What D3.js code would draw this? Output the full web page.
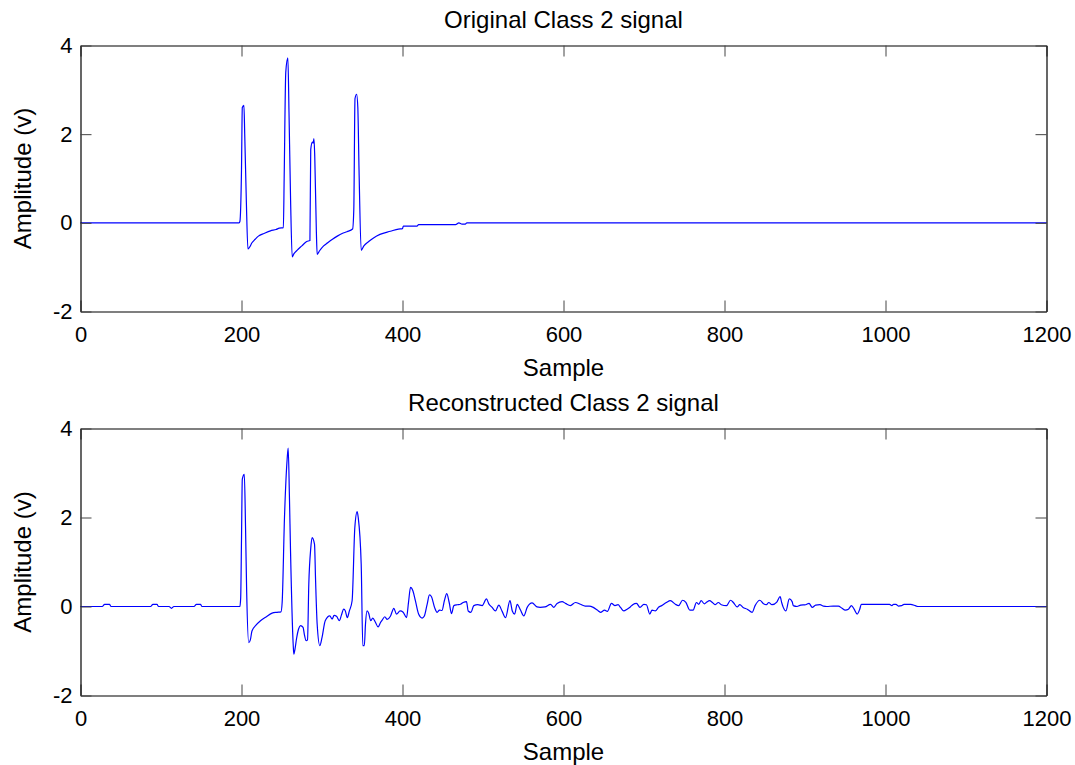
<!DOCTYPE html>
<html>
<head>
<meta charset="utf-8">
<script src="https://cdn.jsdelivr.net/npm/d3@7"></script>
<style>
  body { margin: 0; background: #fff; }
  svg { display: block; }
  .axis text { font-family: "Liberation Sans", Arial, sans-serif; font-size: 22px; fill: #000; }
  .label { font-family: "Liberation Sans", Arial, sans-serif; font-size: 24px; fill: #000; }
</style>
</head>
<body>
<div id="chart"></div>
<script>
// chart size
const width = 1075
const height = 765

// ticks
const xTicks = [0, 200, 400, 600, 800, 1000, 1200];
const yTicks = [-2, 0, 2, 4];

// titles
const titles = ["Original Class 2 signal", "Reconstructed Class 2 signal"];

// original signal (sample, amplitude)
const origSample = [0, 197, 198, 200, 201, 203, 204, 206, 208, 210, 213, 217, 221, 228, 236, 243, 247, 252,
  253, 255, 257.6, 259, 261, 263, 265, 269, 275, 281, 285, 286, 288, 289, 290, 291, 293, 294, 297, 302, 307,
  313, 319, 325, 331, 338, 339.5, 341, 343, 344.5, 346, 348.7, 352, 358, 364, 372, 385, 395, 400, 401, 418,
  420, 466, 470, 474, 478, 480, 1200];
const origAmp = [0, 0, 0.03, 1.2, 2.6, 2.65, 2.0, 0.5, -0.59, -0.55, -0.45, -0.37, -0.3, -0.24, -0.18, -0.15, -0.12, -0.11,
  1.0, 3.4, 3.72, 2.5, 0.5, -0.77, -0.7, -0.62, -0.52, -0.42, -0.4, 1.65, 1.82, 1.8, 1.9, 1.5, -0.2, -0.71, -0.63, -0.52, -0.45,
  -0.37, -0.3, -0.24, -0.2, -0.14, 0.3, 2.8, 2.9, 2.6, 1.2, -0.62, -0.52, -0.42, -0.34, -0.26, -0.19, -0.14, -0.13, -0.075, -0.075,
  -0.04, -0.04, 0.0, -0.03, -0.03, 0, 0];

// reconstructed signal (sample, amplitude)
const reconSample = [0, 27, 30, 36, 38, 87, 90, 95, 97, 110, 113, 116, 141, 144, 149, 151, 198,
  199, 200, 201, 203.5, 205, 206.4, 209, 211, 213, 218, 223.6, 230, 238, 244, 249,
  250.5, 253.4, 256.7, 258, 259.5, 260.9, 264.2, 265, 266.5, 268.3, 271, 273.3, 276.5, 278, 280.3, 282,
  283.6, 286, 287.7, 290.7, 292, 294, 297.3, 300, 304, 309.7, 312.6, 315, 318, 321.7, 324, 327, 329, 331.4, 334,
  337.4, 340.8, 343.7, 345, 348.7, 350.7, 352.6, 354, 356, 358, 360.5, 363, 366.5, 369.7, 372.7, 374.6, 378, 381,
  385, 389.2, 392.5, 397, 400.8, 405, 407.5, 410, 413, 416, 420, 424.4, 427, 430.6, 433.5, 436, 439.8, 443, 446,
  449, 452, 455, 458, 460.9, 463.8, 468, 472, 475.4, 479.5, 481.6, 485, 488.6, 493.5, 499, 504.3, 507.2, 511.3,
  515.5, 519.6, 523.8, 528, 533.5, 536.4, 539.3, 542.5, 546.6, 550.7, 554.9, 561, 567, 571, 577, 583.9, 588, 592,
  598.3, 602.5, 608.6, 614.8, 621, 627, 632, 637, 642, 646, 651, 654.5, 659.6, 664, 667.8, 670.8, 674.9, 679, 683,
  686, 690.7, 695, 699.8, 703, 707.2, 710, 714, 718.4, 722, 727.8, 732.8, 739, 743, 747.9, 752, 756.9, 761, 765.2,
  768, 771, 775, 778, 781.4, 785, 788.2, 792.4, 796, 802.5, 807.5, 811, 815.7, 819, 823, 828.2, 834.4, 838, 843.9,
  848, 852, 855, 859, 865, 869.1, 871, 873, 876.3, 880.5, 884, 885.5, 890, 894.6, 900.8, 905, 909, 913.2, 918.6,
  923, 927, 935, 941.5, 946, 950, 954, 957.7, 961, 964.8, 968, 970, 1005, 1008, 1010, 1013, 1016, 1020, 1023,
  1027, 1031, 1037, 1040, 1200];
const reconAmp = [0, 0, 0.05, 0.05, 0, 0, 0.05, 0.05, 0, 0, -0.04, 0, 0, 0.05, 0.05, 0, 0,
  0.2, 1.5, 2.86, 2.97, 1.8, 0.35, -0.81, -0.75, -0.55, -0.42, -0.32, -0.24, -0.15, -0.13, -0.12,
  0.09, 2.0, 3.31, 3.56, 2.5, 1.25, -0.85, -1.07, -0.95, -0.73, -0.5, -0.43, -0.47, -0.62, -0.77, -0.75,
  0.5, 1.3, 1.55, 1.4, 0.6, -0.4, -0.88, -0.7, -0.32, -0.21, -0.28, -0.2, -0.22, -0.32, -0.2, -0.06, -0.1, -0.25, -0.1,
  0.13, 1.78, 2.13, 2.0, 0.95, -0.88, -0.88, -0.4, -0.1, -0.15, -0.32, -0.26, -0.36, -0.46, -0.36, -0.31, -0.23, -0.29,
  -0.22, -0.04, -0.17, -0.1, -0.13, -0.25, 0.1, 0.43, 0.35, 0.13, -0.17, -0.26, -0.22, 0.05, 0.26, 0.22, -0.02, -0.13, -0.08,
  -0.09, 0.13, 0.29, 0.09, -0.16, 0.02, 0.04, 0.05, 0.09, 0.11, -0.1, -0.13, 0.02, 0.04, 0.02, 0.17, 0.06, -0.02,
  -0.1, 0.03, -0.11, -0.25, 0.13, -0.1, -0.17, 0.05, -0.08, -0.21, -0.02, 0.08, -0.01, -0.02, -0.01, 0.05, -0.02, 0.07,
  0.11, 0.07, 0.02, 0.09, 0.05, 0.01, 0.01, -0.02, -0.08, -0.13, -0.08, -0.11, 0.07, 0.02, 0.04, -0.02, -0.1, -0.06, -0.01,
  0.04, 0.07, -0.02, 0.05, 0.04, -0.17, -0.08, -0.1, -0.01, 0.02, 0.09, 0.13, 0.05, 0.02, 0.14, 0.09, -0.08, -0.08, 0.09,
  0.05, 0.13, 0.06, 0.1, 0.13, 0.09, 0.04, 0.09, 0.04, 0.02, 0.14, 0.09, -0.01, 0.04, -0.02, -0.06, -0.13, 0.02, 0.14,
  0.07, 0.04, 0.09, 0.04, 0.1, 0.22, 0.09, -0.02, -0.1, 0.17, 0.11, 0.02, 0.0, 0.03, 0.04, 0.07, -0.02, 0.03, 0.04,
  0.01, 0.0, 0.01, 0.01, -0.04, -0.08, -0.06, 0.02, -0.06, -0.17, -0.06, 0.05, 0.05, 0.02, 0.05, 0.05, 0.01, 0.02, 0.05,
  0.05, 0.05, 0.02, 0, 0];

const svg = d3.select("#chart")
    .append("svg")
    .attr("width", width)
    .attr("height", height)

// x scale shared by both panels
const x = d3.scaleLinear()
    .domain([0, 1200])
    .range([80.5, 1046.5])

// plain tick labels, hyphen for minus like matlab
const plain = d => String(d)

const panels = [
    { top: 45.5, bottom: 311.5, title: titles[0], s: origSample, a: origAmp },
    { top: 428.5, bottom: 695.5, title: titles[1], s: reconSample, a: reconAmp }
];

panels.forEach(function (p) {
    const y = d3.scaleLinear()
        .domain([-2, 4])
        .range([p.bottom, p.top])

    const g = svg.append("g")

    // signal line
    const pts = p.s.map((d, i) => [d, p.a[i]]);
    g.append("path")
        .datum(pts)
        .attr("fill", "none")
        .attr("stroke", "#0000ff")
        .attr("stroke-width", 1.2)
        .attr("d", d3.line().x(d => x(d[0])).y(d => y(d[1])).curve(d3.curveMonotoneX))

    // axes, MATLAB style ticks pointing inwards on all four sides
    const ax = [
        { a: d3.axisBottom(x).tickValues(xTicks).tickFormat(plain).tickPadding(15), t: `translate(0,${p.bottom})` },
        { a: d3.axisTop(x).tickValues(xTicks).tickFormat(""), t: `translate(0,${p.top})` },
        { a: d3.axisLeft(y).tickValues(yTicks).tickFormat(plain).tickPadding(8), t: `translate(${x(0)},0)` },
        { a: d3.axisRight(y).tickValues(yTicks).tickFormat(""), t: `translate(${x(1200)},0)` }
    ];
    ax.forEach(function (o) {
        const axg = g.append("g")
            .attr("class", "axis")
            .attr("transform", o.t)
            .call(o.a.tickSize(-11).tickSizeOuter(0))
        axg.select(".domain").attr("stroke", "#000").attr("stroke-width", 1.2)
        axg.selectAll(".tick line").attr("stroke", "#444")
    });

    // title
    g.append("text")
        .attr("class", "label")
        .attr("x", (x(0) + x(1200)) / 2)
        .attr("y", p.top - 18)
        .attr("text-anchor", "middle")
        .text(p.title)

    // x label
    g.append("text")
        .attr("class", "label")
        .attr("x", (x(0) + x(1200)) / 2)
        .attr("y", p.bottom + 64)
        .attr("text-anchor", "middle")
        .text("Sample")

    // y label
    g.append("text")
        .attr("class", "label")
        .attr("transform", `translate(31,${(p.top + p.bottom) / 2}) rotate(-90)`)
        .attr("text-anchor", "middle")
        .text("Amplitude (v)")
});
</script>
</body>
</html>
